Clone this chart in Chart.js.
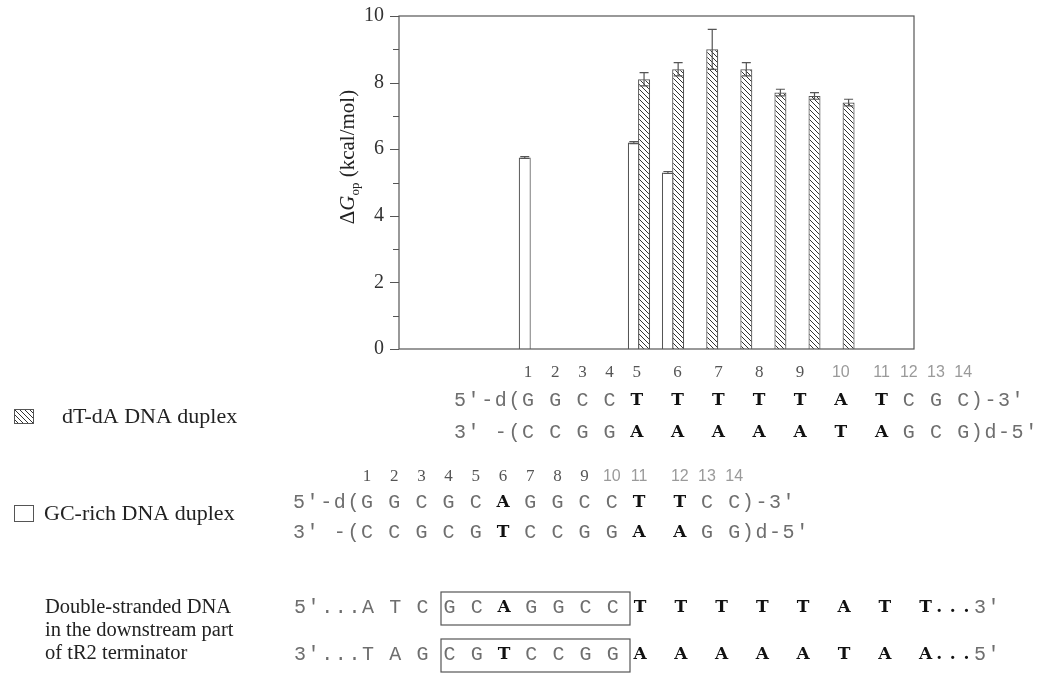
<!DOCTYPE html>
<html>
<head>
<meta charset="utf-8">
<script src="https://cdn.jsdelivr.net/npm/chart.js@4.4.1/dist/chart.umd.min.js"></script>
<style>
  html, body { margin: 0; background: #fff; }
  #wrap { width: 1038px; height: 677px; position: relative; }
</style>
</head>
<body>
<div id="wrap"><canvas id="c"></canvas></div>
<script>
// opening free energy per site; x is the site slot along the aligned duplex
const dtdaSites = [5, 6, 7, 8, 9, 10, 11];
const dtdaEnergy = [8.1, 8.4, 9.0, 8.4, 7.7, 7.6, 7.4];
const dtdaError = [0.2, 0.2, 0.6, 0.2, 0.1, 0.1, 0.1];

const gcSites = [1.5, 4.7, 5.7];
const gcEnergy = [5.75, 6.2, 5.3];
const gcError = [0.03, 0.03, 0.03];

const yTicks = [0, 2, 4, 6, 8, 10];

// sequences, [..] = bold
const dtdaTop = '5′-d(G G C C [T]  [T]  [T]  [T]  [T]  [A]  [T] C G C)-3′';
const dtdaBottom = '3′ -(C C G G [A]  [A]  [A]  [A]  [A]  [T]  [A] G C G)d-5′';
const gcTop = '5′-d(G G C G C [A] G G C C [T]  [T] C C)-3′';
const gcBottom = '3′ -(C C G C G [T] C C G G [A]  [A] G G)d-5′';
const tr2Top = '5′...A T C G C [A] G G C C [T]  [T]  [T]  [T]  [T]  [A]  [T]  [T...]3′';
const tr2Bottom = '3′...T A G C G [T] C C G G [A]  [A]  [A]  [A]  [A]  [T]  [A]  [A...]5′';

const SERIF = '"Liberation Serif", "Times New Roman", serif';
const SANS = '"Liberation Sans", Arial, sans-serif';
const MONO = '"Liberation Mono", "DejaVu Sans Mono", monospace';
const SLAB = '"DejaVu Serif", serif';
const INK = '#555';

const canvas = document.getElementById('c');
const ctx = canvas.getContext('2d');

function makeHatch(target) {
  const s = 5;
  const tile = document.createElement('canvas');
  tile.width = s;
  tile.height = s;
  const g = tile.getContext('2d');
  g.fillStyle = '#fff';
  g.fillRect(0, 0, s, s);
  g.strokeStyle = '#333';
  g.lineWidth = 1;
  g.beginPath();
  g.moveTo(-1, -1); g.lineTo(s + 1, s + 1);
  g.moveTo(-1, s - 1); g.lineTo(1, s + 1);
  g.moveTo(s - 1, -1); g.lineTo(s + 1, 1);
  g.stroke();
  return target.createPattern(tile, 'repeat');
}
const hatch = makeHatch(ctx);

function parseStrand(text) {
  const cells = [];
  let bold = false;
  let col = 0;
  for (const ch of text) {
    if (ch === '[') { bold = true; continue; }
    if (ch === ']') { bold = false; continue; }
    cells.push({ ch, bold, col });
    col++;
  }
  return cells;
}

function drawStrand(g, text, x0, y, step) {
  g.textAlign = 'center';
  g.textBaseline = 'middle';
  for (const c of parseStrand(text)) {
    if (c.ch === ' ') continue;
    g.font = c.bold ? `bold 17px ${SLAB}` : `20px ${MONO}`;
    g.fillStyle = c.bold ? '#111' : '#6e6e6e';
    g.fillText(c.ch, x0 + c.col * step, y);
  }
}

// numbers over each nucleotide between the brackets
function drawNumbers(g, text, x0, y, step) {
  const cells = parseStrand(text);
  const open = cells.find((c) => c.ch === '(').col;
  const close = cells.find((c) => c.ch === ')').col;
  let n = 0;
  g.textAlign = 'center';
  g.textBaseline = 'middle';
  cells.forEach((c) => {
    if (c.col <= open || c.col >= close || c.ch === ' ') return;
    n++;
    if (n < 10) {
      g.font = `17px ${SERIF}`;
      g.fillStyle = '#555';
    } else {
      g.font = `16px ${SANS}`;
      g.fillStyle = '#9a9a9a';
    }
    g.fillText(String(n), x0 + c.col * step, y);
  });
}

const errorBars = {
  id: 'errorBars',
  afterDatasetsDraw(chart) {
    const g = chart.ctx;
    const y = chart.scales.y;
    const errs = [dtdaError, gcError];
    g.save();
    g.strokeStyle = INK;
    g.lineWidth = 1.2;
    chart.data.datasets.forEach((ds, i) => {
      const meta = chart.getDatasetMeta(i);
      meta.data.forEach((bar, j) => {
        const v = ds.data[j].y;
        const e = errs[i][j];
        const top = y.getPixelForValue(v + e);
        const bot = y.getPixelForValue(v - e);
        g.beginPath();
        g.moveTo(bar.x, top); g.lineTo(bar.x, bot);
        g.moveTo(bar.x - 4.5, top); g.lineTo(bar.x + 4.5, top);
        g.moveTo(bar.x - 4.5, bot); g.lineTo(bar.x + 4.5, bot);
        g.stroke();
      });
    });
    g.restore();
  },
};

const frame = {
  id: 'frame',
  afterDraw(chart) {
    const g = chart.ctx;
    const a = chart.chartArea;
    const y = chart.scales.y;
    g.save();
    g.strokeStyle = INK;
    g.lineWidth = 1.2;
    g.strokeRect(a.left, a.top, a.right - a.left, a.bottom - a.top);

    // major and minor ticks on the left axis
    g.beginPath();
    for (let v = 0; v <= 10; v++) {
      const py = Math.round(y.getPixelForValue(v)) + 0.5;
      g.moveTo(a.left - (v % 2 === 0 ? 9 : 6), py);
      g.lineTo(a.left, py);
    }
    g.stroke();

    // axis title: ΔG_op (kcal/mol)
    g.translate(354, 157);
    g.rotate(-Math.PI / 2);
    g.fillStyle = '#222';
    g.textBaseline = 'alphabetic';
    g.textAlign = 'left';
    const parts = [
      { t: 'Δ', f: `21px ${SERIF}`, dy: 0 },
      { t: 'G', f: `italic 21px ${SERIF}`, dy: 0 },
      { t: 'op', f: `13px ${SERIF}`, dy: 5 },
      { t: ' (kcal/mol)', f: `21px ${SERIF}`, dy: 0 },
    ];
    let w = 0;
    parts.forEach((p) => { g.font = p.f; w += g.measureText(p.t).width; });
    let x = -w / 2;
    parts.forEach((p) => {
      g.font = p.f;
      g.fillText(p.t, x, p.dy);
      x += g.measureText(p.t).width;
    });
    g.restore();

    // legend keys and side captions
    g.save();
    g.strokeStyle = INK;
    g.lineWidth = 1;
    g.fillStyle = hatch;
    g.fillRect(14, 409, 20, 15);
    g.strokeRect(14.5, 409.5, 19, 14);
    g.fillStyle = '#fff';
    g.fillRect(14, 505, 20, 17);
    g.strokeRect(14.5, 505.5, 19, 16);

    g.fillStyle = '#222';
    g.textAlign = 'left';
    g.textBaseline = 'middle';
    g.font = `22px ${SERIF}`;
    g.fillText('dT-dA DNA duplex', 62, 417);
    g.fillText('GC-rich DNA duplex', 44, 514);
    g.font = `20.5px ${SERIF}`;
    g.fillText('Double-stranded DNA', 45, 608);
    g.fillText('in the downstream part', 45, 631);
    g.fillText('of tR2 terminator', 45, 654);

    // sequences under the plot
    drawNumbers(g, dtdaTop, 460, 373, 13.6);
    drawStrand(g, dtdaTop, 460, 401, 13.6);
    drawStrand(g, dtdaBottom, 460, 433, 13.6);

    drawNumbers(g, gcTop, 299, 477, 13.6);
    drawStrand(g, gcTop, 299, 503, 13.6);
    drawStrand(g, gcBottom, 299, 533, 13.6);

    drawStrand(g, tr2Top, 300, 608, 13.6);
    drawStrand(g, tr2Bottom, 300, 655, 13.6);

    g.strokeStyle = INK;
    g.lineWidth = 1.2;
    g.strokeRect(441, 592, 189, 33);
    g.strokeRect(441, 639, 189, 33);
    g.restore();
  },
};

new Chart(ctx, {
  type: 'bar',
  data: {
    datasets: [
      {
        label: 'dT-dA DNA duplex',
        data: dtdaSites.map((x, i) => ({ x, y: dtdaEnergy[i] })),
        backgroundColor: hatch,
        borderColor: INK,
        borderWidth: 1.2,
      },
      {
        label: 'GC-rich DNA duplex',
        data: gcSites.map((x, i) => ({ x, y: gcEnergy[i] })),
        backgroundColor: '#fff',
        borderColor: INK,
        borderWidth: 1.2,
      },
    ],
  },
  options: {
    responsive: true,
    maintainAspectRatio: false,
    devicePixelRatio: 1,
    animation: false,
    grouped: false,
    categoryPercentage: 1,
    barPercentage: 1.2,
    maxBarThickness: 12,
    layout: { padding: { left: 0, top: 16, right: 124, bottom: 328 } },
    plugins: { legend: { display: false }, tooltip: { enabled: false } },
    scales: {
      x: { type: 'linear', min: -1.11, max: 11.84, display: false },
      y: {
        min: 0,
        max: 10,
        afterBuildTicks: (scale) => { scale.ticks = yTicks.map((value) => ({ value })); },
        afterFit: (scale) => {
          scale.width = 399;
          scale.paddingTop = 0;
          scale.paddingBottom = 0;
        },
        grid: { display: false, drawTicks: false },
        border: { display: false },
        ticks: {
          padding: 15,
          color: '#333',
          font: { family: SERIF, size: 20 },
        },
      },
    },
  },
  plugins: [errorBars, frame],
});
</script>
</body>
</html>
